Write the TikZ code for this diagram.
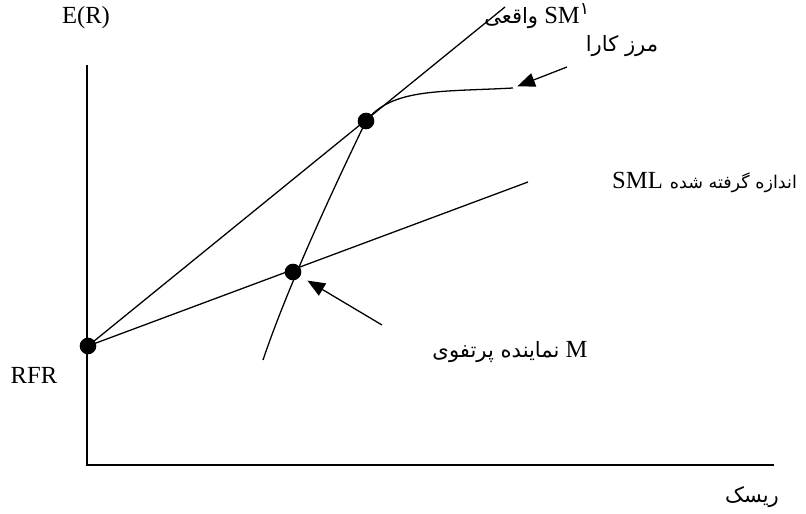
\documentclass[tikz,border=0pt]{standalone}
\usepackage{fontspec}
\setmainfont{Liberation Serif}
\newfontfamily\farsifont[Script=Arabic]{DejaVu Sans}
\TeXXeTstate=1
\usetikzlibrary{arrows.meta}

\begin{document}
\begin{tikzpicture}[x=0.03cm, y=-0.03cm,
  dot_/.style={circle, fill=black, inner sep=0pt, minimum size=0.5cm},
  lbl/.style={font=\fontsize{21}{25}\selectfont, inner sep=0pt},
  fa/.style={font=\fontsize{18}{22}\selectfont\farsifont, inner sep=0pt},
  arr/.style={-{Triangle[length=15pt, width=12pt]}, line width=1.1pt},
  ln/.style={line width=1.1pt}
]
  \useasboundingbox (0,0) rectangle (806,514);

  % axes
  \coordinate (axtop) at (87,65);
  \coordinate (origin) at (87,465);
  \coordinate (axright) at (774,465);
  \draw[ln] (axtop) -- (origin) -- (axright);

  % points
  \node[dot_] (rfr)    at (88,346)  {};
  \node[dot_] (mtrue)  at (366,121) {};
  \node[dot_] (mproxy) at (293,272) {};

  % security market lines
  \coordinate (smltrue) at (505,7);
  \coordinate (smlmeas) at (528,182);
  \draw[ln] (rfr.center) -- (smltrue);
  \draw[ln] (rfr.center) -- (smlmeas);

  % efficient frontier
  \coordinate (effstart) at (263,360);
  \coordinate (effend) at (513,88);
  \draw[ln] (effstart) .. controls (290,280) and (340,175) .. (mtrue.center)
    .. controls (392,88) and (440,92) .. (effend);

  % pointers
  \coordinate (arrowE) at (567,67);
  \coordinate (arrowM) at (382,325);
  \draw[arr, shorten >=4pt] (arrowE) -- (effend);
  \draw[arr, shorten >=7pt] (arrowM) -- (mproxy);

  % labels
  \node[lbl] (er)   at (86,18)  {E(R)};
  \node[lbl] (rfrl) at (34,375) {RFR};
  \node[lbl] (topl) at (537,16) {\beginR\beginL SM\textsuperscript{\farsifont ۱}\endL\ {\farsifont\fontsize{18}{22}\selectfont واقعی}\endR};
  \node[fa]  (effl) at (622,46) {\beginR مرز کارا\endR};
  \node[lbl, anchor=west] (smll) at (612,183) {\beginR{\farsifont\fontsize{15}{18}\selectfont اندازه گرفته شده}\hspace{6pt}\beginL SML\endL\endR};
  \node[lbl] (mlbl) at (510,352) {\beginR\beginL M\endL\ {\farsifont\fontsize{18}{22}\selectfont نماینده پرتفوی}\endR};
  \node[fa]  (riskl) at (752,497) {\beginR ریسک\endR};
\end{tikzpicture}
\end{document}
